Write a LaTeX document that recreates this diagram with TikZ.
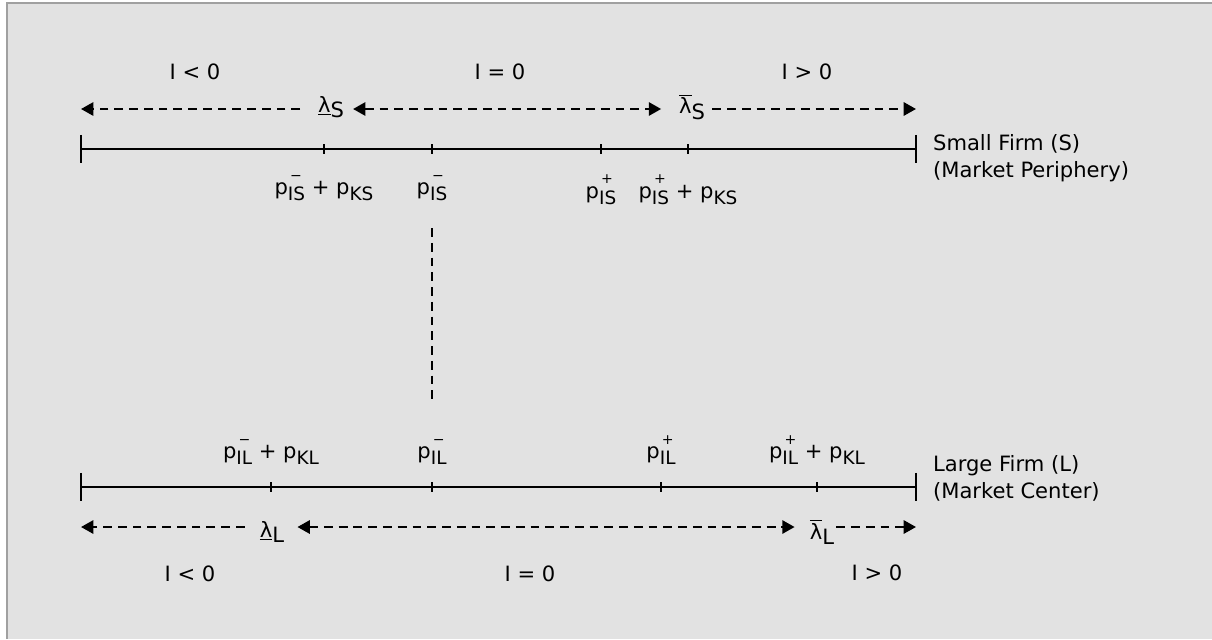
\documentclass[tikz,border=0pt]{standalone}
\usepackage{fontspec}
\setmainfont{DejaVu Sans}
\usetikzlibrary{positioning,arrows.meta}
\definecolor{panelgray}{HTML}{E2E2E2}
\definecolor{framegray}{HTML}{A0A0A0}
\newcommand{\pvar}[2]{p\rlap{\kern0.1em\raisebox{0.68em}{\fontsize{8}{8}\selectfont #1}}\raisebox{-0.3em}{\fontsize{10.5}{12}\selectfont #2}}
\newcommand{\lamlow}[1]{\underline{\hbox{λ}}\raisebox{-0.25em}{#1}}
\newcommand{\lamhigh}[1]{$\overline{\hbox{λ}}$\raisebox{-0.25em}{#1}}

\begin{document}
\begin{tikzpicture}[x=0.02cm,y=-0.02cm,
axisline/.style={line width=0.8pt},
rangeline/.style={line width=1.3pt, dash pattern=on 5pt off 3.4pt},
lbl/.style={font=\fontsize{12}{15.3}\selectfont, inner sep=1pt},
lamnode/.style={font=\fontsize{12}{15.3}\selectfont, inner sep=0pt},
>={Triangle[length=7pt,width=7.5pt]}
]
%Frame
\useasboundingbox (0,0) rectangle (1212,639);
\fill[panelgray] (7,3) rectangle (1212,639);
\draw[framegray,line width=1pt] (7,639) -- (7,3) -- (1212,3);
%Small firm scale
\coordinate (sLeft)  at (81,149);
\coordinate (sRight) at (916,149);
\coordinate (sKm) at (324,149);
\coordinate (sIm) at (432,149);
\coordinate (sIp) at (601,149);
\coordinate (sKp) at (688,149);
\coordinate (sArrL) at (81,109);
\coordinate (sArrR) at (916,109);
%Large firm scale
\coordinate (lLeft)  at (81,487);
\coordinate (lRight) at (916,487);
\coordinate (lKm) at (271,487);
\coordinate (lIm) at (432,487);
\coordinate (lIp) at (661,487);
\coordinate (lKp) at (817,487);
\coordinate (lArrL) at (81,527);
\coordinate (lArrR) at (916,527);
%Drop line
\coordinate (dropTop) at (432,228);
\coordinate (dropBot) at (432,405);
%Nodes
\node[lbl] (sNeg)  at (195,72) {I < 0};
\node[lbl] (sZero) at (500,72) {I = 0};
\node[lbl] (sPos)  at (807,72) {I > 0};
\node[lamnode] (lamSlo) at (331,107) {\lamlow{S}};
\node[lamnode] (lamShi) at (692,107) {\lamhigh{S}};
\node[lbl] (sKmLab) [below=0.48cm of sKm] {\pvar{−}{IS} + \pvar{}{KS}};
\node[lbl] (sImLab) [below=0.48cm of sIm] {\pvar{−}{IS}};
\node[lbl] (sIpLab) [below=0.48cm of sIp] {\pvar{+}{IS}};
\node[lbl] (sKpLab) [below=0.48cm of sKp] {\pvar{+}{IS} + \pvar{}{KS}};
\node[lbl,anchor=west,align=left] (sFirm) at (931,158) {Small Firm (S)\\(Market Periphery)};
\node[lbl] (lKmLab) [above=0.4cm of lKm] {\pvar{−}{IL} + \pvar{}{KL}};
\node[lbl] (lImLab) [above=0.4cm of lIm] {\pvar{−}{IL}};
\node[lbl] (lIpLab) [above=0.4cm of lIp] {\pvar{+}{IL}};
\node[lbl] (lKpLab) [above=0.4cm of lKp] {\pvar{+}{IL} + \pvar{}{KL}};
\node[lbl,anchor=west,align=left] (lFirm) at (931,478) {Large Firm (L)\\(Market Center)};
\node[lamnode] (lamLlo) at (272,532) {\lamlow{L}};
\node[lamnode] (lamLhi) at (822,532) {\lamhigh{L}};
\node[lbl] (lNeg)  at (190,574) {I < 0};
\node[lbl] (lZero) at (530,574) {I = 0};
\node[lbl] (lPos)  at (877,573) {I > 0};
%Lines
\draw[axisline] (sLeft) -- (sRight);
\draw[axisline] ([yshift=8pt]sLeft) -- ([yshift=-8pt]sLeft);
\draw[axisline] ([yshift=8pt]sRight) -- ([yshift=-8pt]sRight);
\foreach \t in {sKm,sIm,sIp,sKp}
  \draw[axisline] ([yshift=2.6pt]\t) -- ([yshift=-2.6pt]\t);
\draw[axisline] (lLeft) -- (lRight);
\draw[axisline] ([yshift=8pt]lLeft) -- ([yshift=-8pt]lLeft);
\draw[axisline] ([yshift=8pt]lRight) -- ([yshift=-8pt]lRight);
\foreach \t in {lKm,lIm,lIp,lKp}
  \draw[axisline] ([yshift=2.6pt]\t) -- ([yshift=-2.6pt]\t);
\draw[rangeline,->,shorten <=10pt] (lamSlo.west |- sArrL) -- (sArrL);
\draw[rangeline,<->,shorten <=5pt,shorten >=10pt] (lamSlo.east |- sArrL) -- (lamShi.west |- sArrL);
\draw[rangeline,->,shorten <=4pt] (lamShi.east |- sArrR) -- (sArrR);
\draw[rangeline,->,shorten <=8.5pt] (lamLlo.west |- lArrL) -- (lArrL);
\draw[rangeline,<->,shorten <=7.4pt,shorten >=8.5pt] (lamLlo.east |- lArrL) -- (lamLhi.west |- lArrL);
\draw[rangeline,->,shorten <=1pt] (lamLhi.east |- lArrR) -- (lArrR);
\draw[rangeline,line width=1.5pt] (dropTop) -- (dropBot);
\end{tikzpicture}
\end{document}
